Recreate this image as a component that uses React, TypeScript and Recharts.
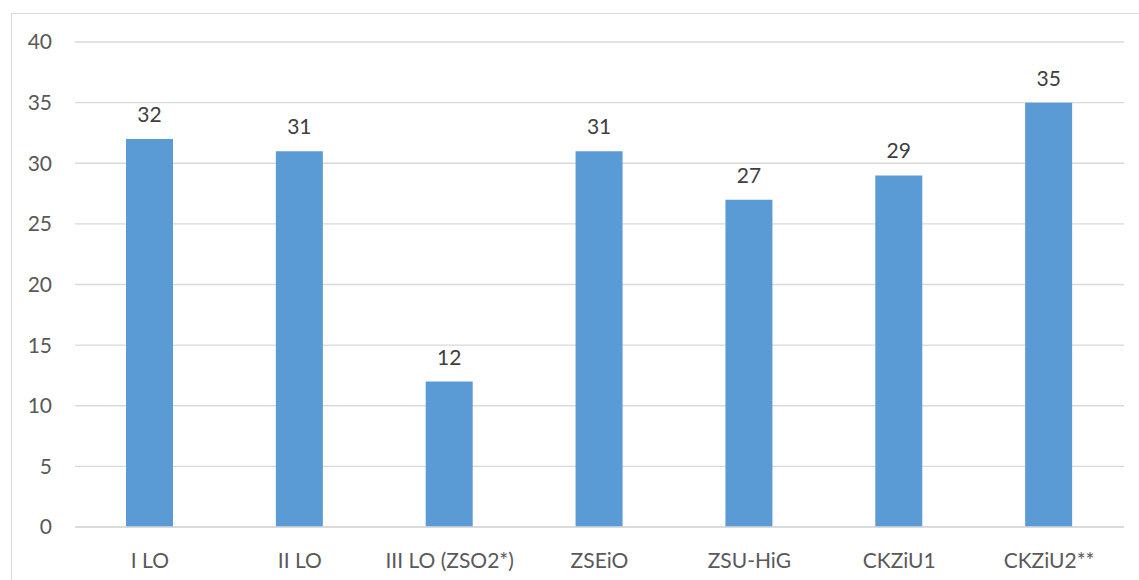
import { BarChart, Bar, XAxis, YAxis, CartesianGrid, LabelList } from 'recharts';

const schools = ['I LO', 'II LO', 'III LO (ZSO2*)', 'ZSEiO', 'ZSU-HiG', 'CKZiU1', 'CKZiU2**'];
const counts = [32, 31, 12, 31, 27, 29, 35];
const yTicks = [0, 5, 10, 15, 20, 25, 30, 35, 40];

const data = schools.map((name, i) => ({ name, value: counts[i] }));

const font = 'Lato, "Open Sans", sans-serif';

export default function App() {
  return (
    <div style={{ position: 'absolute', left: 0, top: 0, width: 1139, height: 580, overflow: 'hidden', background: '#fff' }}>
      <div style={{ position: 'absolute', left: 11, top: 13, width: 1200, height: 700, border: '1.5px solid #d9d9d9' }} />
      <div style={{ position: 'absolute', left: 0, top: 0 }}>
        <BarChart
          width={1139}
          height={580}
          data={data}
          margin={{ top: 42, right: 15, left: 0, bottom: 0 }}
        >
          <CartesianGrid vertical={false} stroke="#d9d9d9" strokeWidth={1.3} />
          <XAxis
            dataKey="name"
            height={53}
            axisLine={{ stroke: '#d9d9d9', strokeWidth: 1.3 }}
            tickLine={false}
            tickSize={0}
            tickMargin={26}
            interval={0}
            tick={{ fill: '#595959', fontSize: 21, fontFamily: font }}
          />
          <YAxis
            width={75}
            domain={[0, 40]}
            ticks={yTicks}
            axisLine={false}
            tickLine={false}
            tickSize={0}
            tickMargin={23}
            tick={{ fill: '#595959', fontSize: 21, fontFamily: font }}
          />
          <Bar dataKey="value" fill="#5b9bd5" barSize={47} isAnimationActive={false}>
            <LabelList
              dataKey="value"
              position="top"
              offset={17}
              style={{ fill: '#404040', fontSize: 21, fontFamily: font }}
            />
          </Bar>
        </BarChart>
      </div>
    </div>
  );
}
